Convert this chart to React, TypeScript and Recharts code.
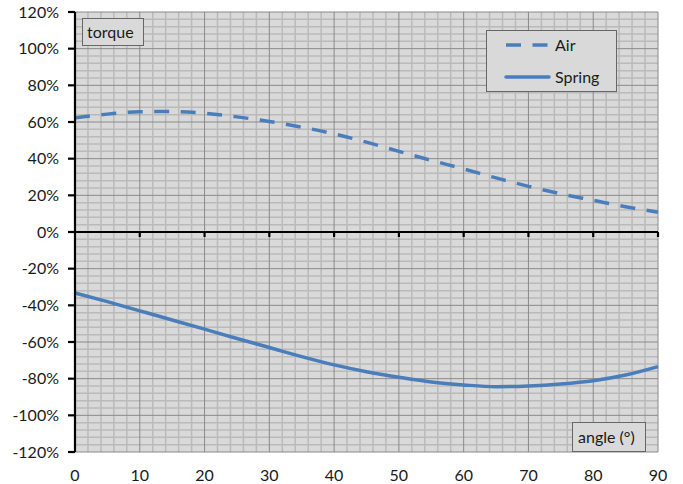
import React from 'react';
import {
  ComposedChart,
  Line,
  XAxis,
  YAxis,
  CartesianGrid,
  ReferenceLine,
  ReferenceDot,
  Legend,
} from 'recharts';

const angles = [0, 5, 10, 15, 20, 25, 30, 35, 40, 45, 50, 55, 60, 65, 70, 75, 80, 85, 90];
const airTorque = [62.3, 64.3, 65.6, 65.7, 64.8, 62.8, 60.3, 57.2, 53.5, 49, 44, 39.1, 34.4, 29.5, 24.9, 20.8, 17.3, 13.8, 10.8];
const springTorque = [-33.3, -38, -43, -48, -53, -58.1, -63, -68, -72.5, -76.2, -79.2, -81.8, -83.4, -84.4, -84, -82.9, -81.1, -78, -73.4];

const xMajorTicks = [0, 10, 20, 30, 40, 50, 60, 70, 80, 90];
const yMajorTicks = [-120, -100, -80, -60, -40, -20, 0, 20, 40, 60, 80, 100, 120];
const xMinorValues = Array.from({ length: 46 }, (_, i) => i * 2).filter((v) => v % 10 !== 0);
const yMinorValues = Array.from({ length: 61 }, (_, i) => -120 + i * 4).filter((v) => v % 20 !== 0);
const xAxisTickValues = [10, 20, 30, 40, 50, 60, 70, 80, 90];

const seriesNames = ['Air', 'Spring'];
const seriesKeys = ['air', 'spring'];
const seriesDashes = ['15 11.5', undefined];

const yAxisTitle = 'torque';
const xAxisTitle = 'angle (°)';

const data = angles.map((a, i) => ({ angle: a, air: airTorque[i], spring: springTorque[i] }));

const LINE_COLOR = '#4a7ebb';
const FONT = 'Lato, "Liberation Sans", sans-serif';
const TEXT_COLOR = '#1a1a1a';

const LegendBox = () => (
  <svg width={131} height={62} style={{ display: 'block' }}>
    <rect x={0.5} y={0.5} width={130} height={61} fill="#d9d9d9" stroke="#666" strokeWidth={1} />
    {seriesNames.map((name, i) => (
      <g key={name}>
        <line
          x1={20}
          x2={63}
          y1={15 + i * 32}
          y2={15 + i * 32}
          stroke={LINE_COLOR}
          strokeWidth={3.5}
          strokeDasharray={seriesDashes[i]}
          strokeLinecap={seriesDashes[i] ? 'butt' : 'round'}
        />
        <text x={69} y={15 + i * 32} dy="0.36em" fontSize={16} fontFamily={FONT} fill={TEXT_COLOR}>
          {name}
        </text>
      </g>
    ))}
  </svg>
);

const boxStyle: React.CSSProperties = {
  position: 'absolute',
  boxSizing: 'border-box',
  background: '#d9d9d9',
  border: '1px solid #666',
  fontFamily: FONT,
  fontSize: 16,
  color: TEXT_COLOR,
  whiteSpace: 'nowrap',
};

export default function App() {
  return (
    <div style={{ position: 'absolute', left: 0, top: 0, width: 683, height: 484, background: '#fff' }}>
      <ComposedChart width={683} height={484} data={data} margin={{ top: 12, right: 25, bottom: 0, left: 0 }}>
        <CartesianGrid
          fill="#d9d9d9"
          fillOpacity={1}
          stroke="#bababa"
          strokeWidth={1.5}
          verticalValues={xMinorValues}
          horizontalValues={yMinorValues}
        />
        <CartesianGrid
          stroke="#8a8a8a"
          strokeWidth={1}
          verticalValues={xMajorTicks}
          horizontalValues={yMajorTicks}
        />
        <XAxis
          dataKey="angle"
          type="number"
          domain={[0, 90]}
          ticks={xMajorTicks}
          interval={0}
          axisLine={false}
          tickLine={false}
          tickSize={0}
          tickMargin={18}
          height={32}
          tick={{ fill: TEXT_COLOR, fontSize: 16, fontFamily: FONT }}
        />
        <YAxis
          type="number"
          domain={[-120, 120]}
          ticks={yMajorTicks}
          interval={0}
          width={75}
          axisLine={{ stroke: '#000', strokeWidth: 2.2 }}
          tickLine={{ stroke: '#000', strokeWidth: 2.2 }}
          tickSize={7}
          tickMargin={9}
          tickFormatter={(v: number) => `${v}%`}
          tick={{ fill: TEXT_COLOR, fontSize: 16, fontFamily: FONT }}
        />
        <ReferenceLine y={0} stroke="#000" strokeWidth={2.2} />
        {xAxisTickValues.map((v) => (
          <ReferenceDot
            key={v}
            x={v}
            y={0}
            r={0}
            shape={(p: any) => (
              <line x1={p.cx} x2={p.cx} y1={p.cy} y2={p.cy + 5} stroke="#000" strokeWidth={2.2} />
            )}
          />
        ))}
        {seriesKeys.map((k, i) => (
          <Line
            key={k}
            type="monotone"
            dataKey={k}
            name={seriesNames[i]}
            stroke={LINE_COLOR}
            strokeWidth={3.5}
            strokeDasharray={seriesDashes[i]}
            dot={false}
            activeDot={false}
            isAnimationActive={false}
          />
        ))}
        <Legend
          layout="horizontal"
          verticalAlign="middle"
          align="center"
          content={() => <LegendBox />}
          wrapperStyle={{ position: 'absolute', left: 486, top: 30, width: 131, height: 62 }}
        />
      </ComposedChart>
      <div style={{ ...boxStyle, left: 82, top: 18, width: 62, height: 28, lineHeight: '26px', paddingLeft: 4 }}>
        {yAxisTitle}
      </div>
      <div style={{ ...boxStyle, left: 572, top: 422, width: 74, height: 30, lineHeight: '28px', paddingLeft: 5 }}>
        {xAxisTitle}
      </div>
    </div>
  );
}
